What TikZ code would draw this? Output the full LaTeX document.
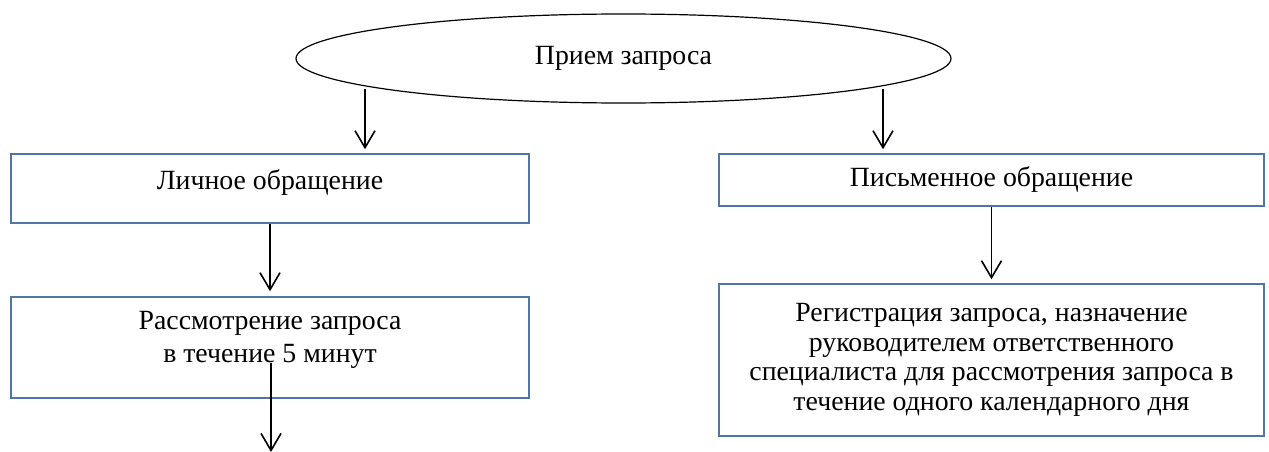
\documentclass[tikz,border=0pt]{standalone}
\usepackage{fontspec}
\setmainfont{Liberation Serif}
\usepackage{xcolor}
\usetikzlibrary{shapes.geometric, arrows.meta, positioning}
\definecolor{boxline}{RGB}{82,116,166}
\tikzset{
  box/.style={rectangle, draw=boxline, line width=1.5pt, align=center, inner sep=0pt},
  oval/.style={ellipse, draw, line width=1.2pt, inner sep=0pt},
  arrow/.style={-{Straight Barb[length=17pt,width=20pt]}, line width=1.6pt},
}

\begin{document}
\begin{tikzpicture}[x=1pt, y=-1pt, font=\fontsize{27.8}{29.7}\selectfont]
    \useasboundingbox (0,0) rectangle (1269,452);
    \node[oval, minimum width=655pt, minimum height=89pt] (request) at (623.5,58.5) {Прием запроса};
    \node[box, minimum width=518pt, minimum height=69pt, text depth=18pt] (personal) at (270,188.5) {Личное обращение};
    \node[box, minimum width=518pt, minimum height=101pt, text depth=21pt] (review) at (270,347.5) {Рассмотрение запроса\\[3.3pt]в течение 5 минут};
    \node[box, minimum width=545pt, minimum height=52pt] (written) at (991.5,180) {Письменное обращение};
    \node[box, minimum width=545pt, minimum height=152pt] (register) at (991.5,360) {Регистрация запроса, назначение\\руководителем ответственного\\специалиста для рассмотрения запроса в\\течение одного календарного дня};
    \coordinate (leftout) at (365,89);
    \coordinate (rightout) at (883,89);
    \coordinate (reviewout) at (271,363);
    \coordinate (reviewend) at (271,452);
    \draw[arrow, shorten >=4pt] (leftout) -- (leftout |- personal.north);
    \draw[arrow, shorten >=4pt] (rightout) -- (rightout |- written.north);
    \draw[arrow, shorten >=5pt] (personal) -- (review);
    \draw[arrow, shorten >=4pt] (written) -- (register);
    \draw[arrow] (reviewout) -- (reviewend);
  \end{tikzpicture}
\end{document}
